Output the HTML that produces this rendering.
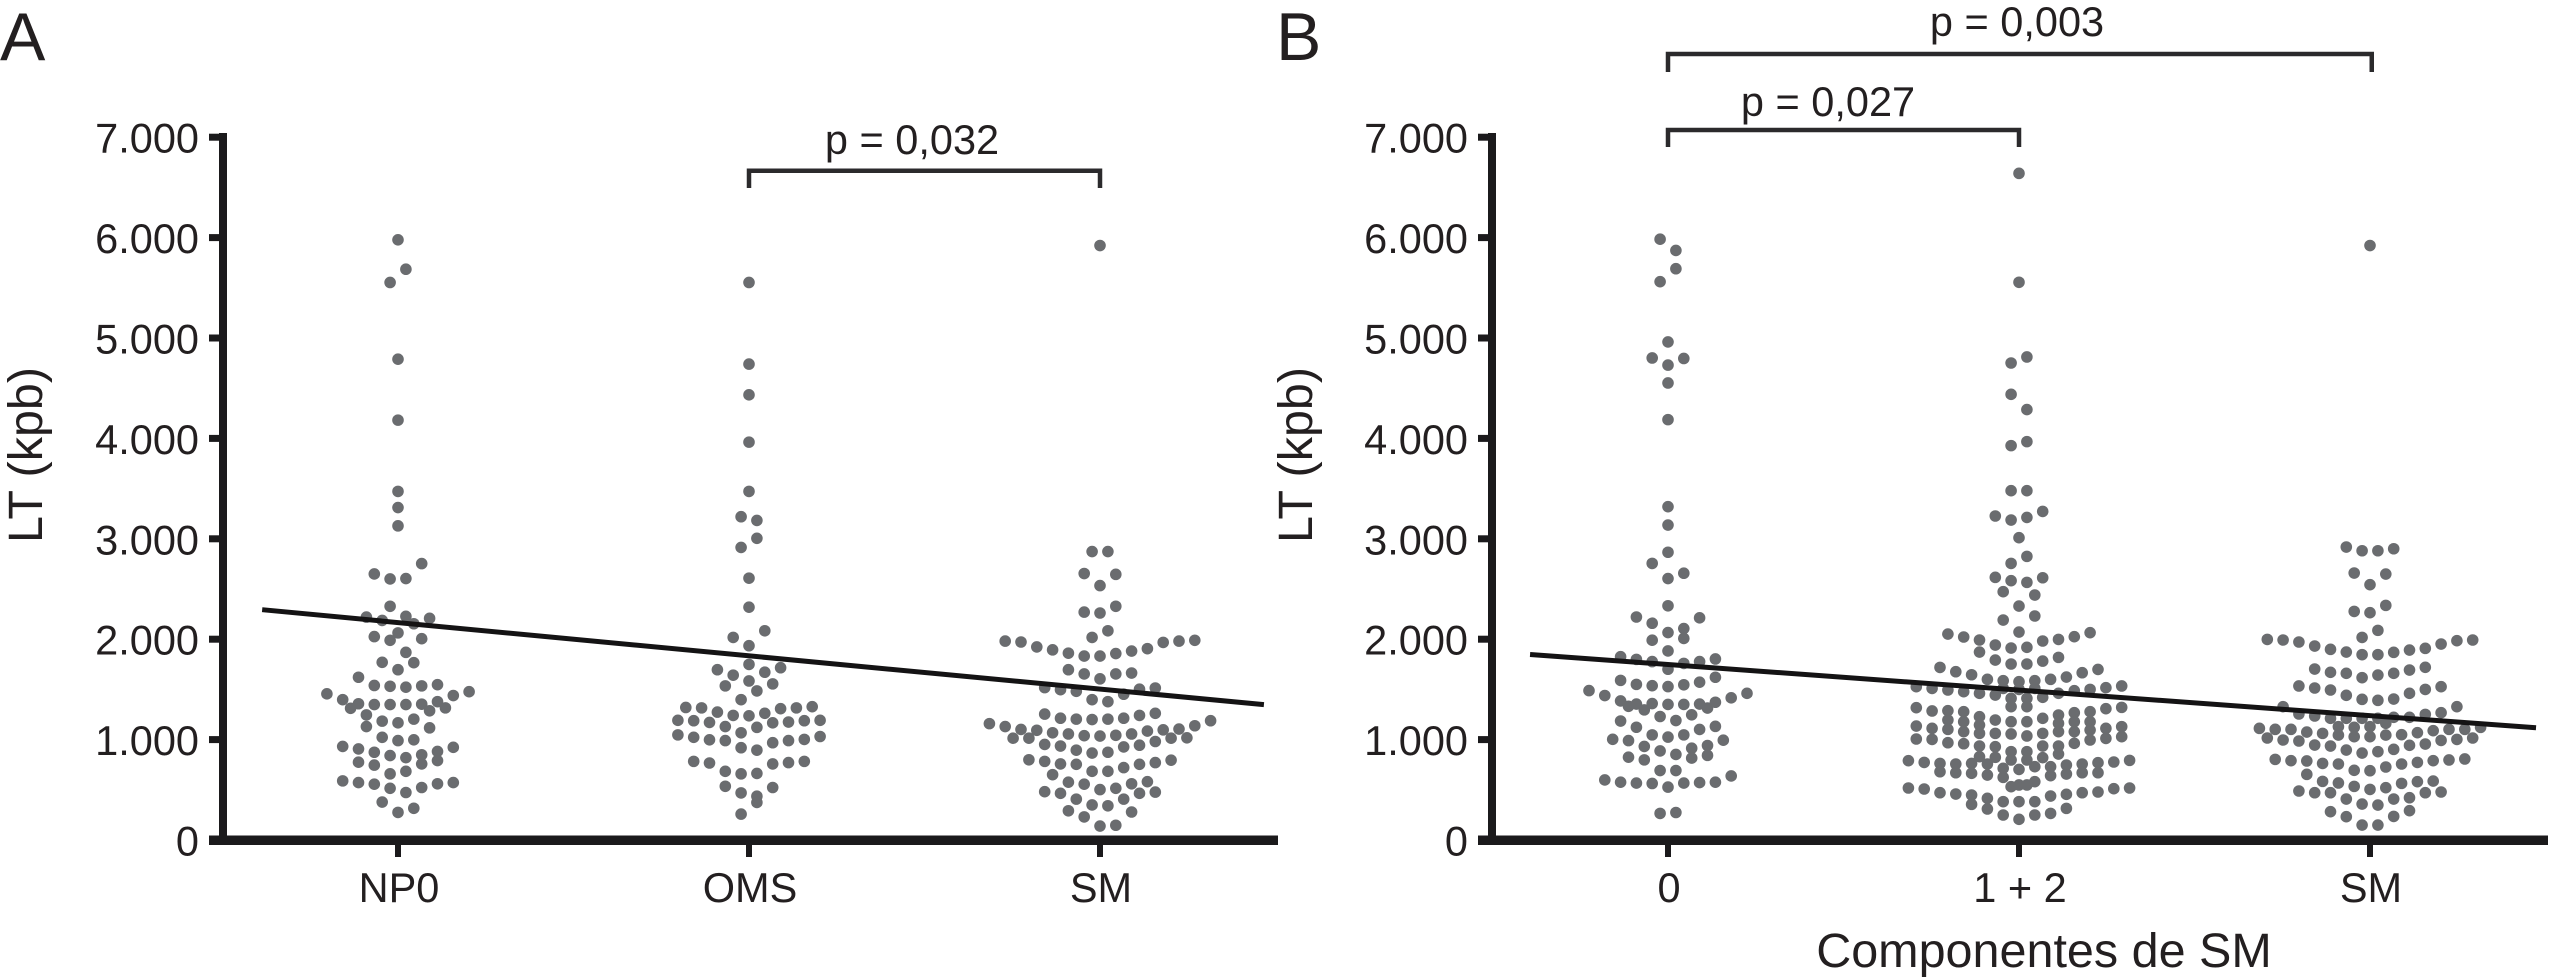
<!DOCTYPE html>
<html lang="pt">
<head>
<meta charset="utf-8">
<title>LT (kpb) beeswarm charts</title>
<style>
html,body{margin:0;padding:0;background:#fff;}
svg{display:block;}
text{font-family:"Liberation Sans",Arial,sans-serif;fill:#231f20;}
</style>
</head>
<body>
<svg id="chart" xmlns="http://www.w3.org/2000/svg" width="2549" height="978" viewBox="0 0 2549 978">
  <rect x="0" y="0" width="2549" height="978" fill="#ffffff"/>
  <text x="0" y="60" font-size="68">A</text>
  <text x="1276" y="60" font-size="68">B</text>
  <text transform="translate(42,455) rotate(-90)" text-anchor="middle" font-size="48.5">LT (kpb)</text>
  <text transform="translate(1312,455) rotate(-90)" text-anchor="middle" font-size="48.5">LT (kpb)</text>
  <text x="2044" y="967" text-anchor="middle" font-size="48.5">Componentes de SM</text>
  <text x="912" y="154" text-anchor="middle" font-size="41.5">p = 0,032</text>
  <text x="2017" y="36" text-anchor="middle" font-size="41.5">p = 0,003</text>
  <text x="1828" y="116" text-anchor="middle" font-size="41.5">p = 0,027</text>
  <g id="marks"></g>
</svg>
<script>
// Shared axis data
const yTicks = [0, 1000, 2000, 3000, 4000, 5000, 6000, 7000];
const yTickLabels = ['0', '1.000', '2.000', '3.000', '4.000', '5.000', '6.000', '7.000'];
const categoriesA = ['NP0', 'OMS', 'SM'];
const categoriesB = ['0', '1 + 2', 'SM'];

// Each point: [swarm slot, LT value]; slot is the beeswarm column index
const np0Points = [[0,5978],[.5,5685],[-.5,5553],[0,4789],[0,4182],[0,3472],[0,3311],[0,3129],[1.5,2753],[-1.5,2650],[-.5,2600],[.5,2604],[-.5,2328],[-2,2220],[-1,2187],[.5,2228],[2,2208],[1,2154],[0,2063],[-1.5,2026],[-.5,1989],[1.5,2005],[.5,1869],[-1,1770],[1,1766],[0,1696],[-2.5,1621],[-1.5,1539],[-.5,1531],[.5,1522],[1.5,1535],[2.5,1547],[-4.5,1456],[4.5,1477],[-3.5,1398],[3.5,1439],[-3,1312],[-2.5,1357],[-1.5,1349],[-.5,1349],[.5,1349],[1.5,1353],[2.5,1378],[2,1287],[3,1316],[-2,1246],[-1,1184],[0,1167],[1,1204],[-2,1130],[2,1117],[-1,1023],[0,990],[1,998],[-3.5,932],[-2.5,907],[-1.5,874],[-.5,841],[.5,820],[1.5,849],[2.5,882],[3.5,923],[-2.5,775],[-1.5,746],[1.5,758],[2.5,791],[-.5,659],[.5,684],[-3.5,589],[-2.5,572],[-1.5,556],[-.5,515],[.5,473],[1.5,523],[2.5,560],[3.5,572],[-1,378],[0,275],[1,316]];

const omsPoints = [[0,5553],[0,4740],[0,4434],[0,3963],[0,3472],[-.5,3220],[.5,3183],[.5,3005],[-.5,2914],[0,2608],[0,2319],[1,2084],[-1,2018],[0,1935],[0,1749],[-2,1696],[2,1716],[-1,1642],[1,1671],[0,1584],[-1.5,1535],[1.5,1555],[.5,1485],[-.5,1398],[-4,1320],[-3,1316],[-2,1274],[-1,1241],[0,1237],[1,1262],[2,1308],[3,1316],[4,1328],[-4.5,1192],[-3.5,1188],[-2.5,1171],[-1.5,1130],[.5,1122],[1.5,1167],[2.5,1175],[3.5,1188],[4.5,1192],[-.5,1068],[-4.5,1047],[-3.5,1023],[-2.5,998],[-1.5,990],[1.5,969],[2.5,990],[3.5,1002],[4.5,1031],[-.5,919],[.5,895],[-3.5,783],[-2.5,767],[1.5,758],[2.5,771],[3.5,783],[-1.5,684],[-.5,659],[.5,663],[-1.5,535],[1.5,523],[-.5,469],[.5,436],[.5,374],[-.5,258]];

const smPointsA = [[0,5921],[-.5,2873],[.5,2873],[-1,2654],[1,2646],[0,2534],[1,2328],[-1,2270],[0,2261],[.5,2084],[-.5,2018],[-6,1981],[-5,1972],[-4,1923],[-3,1894],[-2,1861],[-1,1832],[0,1832],[1,1857],[2,1882],[3,1906],[4,1968],[5,1981],[6,1989],[-2,1696],[-1,1654],[0,1605],[1,1654],[2,1663],[-3.5,1518],[-2.5,1497],[-1.5,1481],[1.5,1452],[2.5,1502],[3.5,1514],[-.5,1398],[.5,1378],[-3.5,1254],[-2.5,1213],[-1.5,1204],[-.5,1200],[.5,1204],[1.5,1213],[2.5,1241],[3.5,1262],[-7,1159],[-6,1130],[-5,1101],[-4,1093],[-3,1068],[-2,1056],[-1,1039],[0,1035],[1,1043],[2,1056],[3,1085],[4,1097],[5,1105],[6,1138],[7,1188],[-5.5,1014],[-4.5,1014],[4.5,1014],[5.5,1018],[-3.5,952],[-2.5,936],[-1.5,895],[-.5,866],[.5,874],[1.5,927],[2.5,944],[3.5,981],[-4.5,799],[-3.5,783],[-2.5,758],[-1.5,754],[-.5,684],[.5,684],[1.5,721],[2.5,754],[3.5,771],[4.5,795],[-3,651],[-2,576],[-1,556],[0,502],[1,515],[2,560],[3,581],[-3.5,481],[-2.5,465],[2.5,465],[3.5,477],[-1.5,407],[-.5,349],[.5,341],[1.5,407],[-2,291],[-1,230],[2,279],[0,139],[1,147]];

const zeroPoints = [[-.5,5984],[.5,5872],[.5,5690],[-.5,5561],[0,4961],[-1,4801],[1,4796],[0,4730],[0,4552],[0,4187],[0,3320],[0,3137],[0,2866],[-1,2755],[0,2604],[1,2657],[0,2333],[-2,2221],[-1,2159],[2,2213],[0,2066],[1,2106],[1,2008],[-1,1990],[0,1883],[-3,1826],[-2,1799],[-1,1777],[1,1759],[2,1777],[3,1803],[0,1701],[3,1621],[-3,1590],[-2,1550],[-1,1537],[0,1528],[1,1546],[2,1572],[-5,1488],[-4,1439],[5,1461],[4,1416],[-3,1385],[-2.5,1332],[-2,1354],[-1.5,1296],[-1,1359],[0,1350],[1,1350],[2,1354],[2.5,1314],[3,1372],[-.5,1230],[.5,1190],[1.5,1247],[-3,1185],[-2,1123],[2,1101],[3,1132],[-1,1047],[0,1025],[1,1047],[-3.5,1003],[-2.5,990],[3.5,994],[-1.5,932],[2.5,941],[-.5,887],[1.5,914],[.5,852],[-2.5,825],[-1.5,798],[1.5,816],[2.5,843],[-.5,692],[.5,692],[4,638],[-4,598],[-3,576],[-2,567],[-1,563],[0,527],[1,567],[2,572],[3,576],[-.5,265],[.5,274]];

const onePlusTwoPoints = [[0,6640],[0,5555],[.5,4811],[-.5,4751],[-.5,4439],[.5,4287],[.5,3968],[-.5,3928],[-.5,3479],[.5,3479],[-1.5,3227],[-.5,3187],[.5,3213],[1.5,3273],[0,3011],[.5,2825],[-.5,2755],[-1.5,2616],[-.5,2583],[.5,2566],[1.5,2612],[-1,2473],[1,2440],[0,2330],[-1,2191],[1,2231],[0,2071],[-4.5,2051],[-3.5,2022],[-2.5,1992],[-2.5,1872],[-1.5,1942],[-.5,1912],[.5,1919],[1.5,1982],[2.5,1998],[3.5,2025],[4.5,2065],[-1.5,1792],[-.5,1753],[.5,1753],[1.5,1782],[2.5,1819],[-5,1719],[-4,1676],[-3,1646],[-2,1600],[-1,1587],[0,1577],[1,1587],[2,1600],[3,1623],[4,1666],[5,1699],[-1,1510],[0,1500],[1,1510],[-6.5,1527],[-5.5,1510],[-4.5,1494],[-3.5,1477],[-2.5,1461],[-1.5,1444],[-.5,1411],[-.5,1328],[-6.5,1318],[-5.5,1285],[-4.5,1288],[-4.5,1195],[-4.5,1102],[-3.5,1278],[-3.5,1178],[-3.5,1079],[-2.5,1228],[-2.5,1145],[-2.5,1062],[-1.5,1195],[-1.5,1062],[-.5,1178],[-.5,1056],[-6.5,1135],[-6.5,1006],[-5.5,1112],[-5.5,1002],[-4.5,969],[-3.5,959],[-2.5,936],[-2.5,830],[-1.5,929],[-1.5,823],[-.5,880],[-.5,797],[-7,790],[-6,773],[-5,763],[-5,680],[-4,757],[-4,670],[-3,763],[-3,664],[-2,757],[-2,647],[-1,714],[-1,624],[0,703],[-.5,531],[0,548],[-7,518],[-6,508],[-5,471],[-4,458],[-3,448],[-3,355],[-2,415],[-2,309],[-1,382],[-1,249],[0,382],[0,206],[6.5,1534],[5.5,1517],[4.5,1500],[3.5,1487],[2.5,1461],[1.5,1421],[.5,1411],[.5,1328],[6.5,1321],[5.5,1308],[4.5,1278],[4.5,1178],[4.5,1095],[4.5,996],[3.5,1268],[3.5,1178],[3.5,1079],[2.5,1245],[2.5,1162],[2.5,1079],[1.5,1212],[1.5,1062],[.5,1178],[.5,1036],[6.5,1129],[6.5,1029],[5.5,1112],[5.5,1012],[3.5,963],[2.5,936],[2.5,856],[1.5,936],[1.5,820],[.5,880],[.5,797],[7,793],[6,777],[5,770],[5,670],[4,757],[4,670],[3,747],[3,657],[2,730],[2,641],[1,730],[7,518],[6,511],[5,478],[4,471],[3,455],[2,438],[1,581],[.5,548],[1,382],[1,249],[2,265],[3,315]];

const smPointsB = [[0,5921],[-1.5,2918],[-.5,2881],[.5,2881],[1.5,2901],[-1,2659],[1,2649],[0,2543],[-1,2277],[0,2264],[1,2337],[.5,2088],[-.5,2018],[-6.5,1998],[-5.5,1992],[-4.5,1972],[-3.5,1932],[-2.5,1899],[-1.5,1872],[-.5,1846],[.5,1846],[1.5,1869],[2.5,1892],[3.5,1909],[4.5,1952],[5.5,1985],[6.5,1992],[-3.5,1703],[-2.5,1670],[-1.5,1660],[-.5,1617],[.5,1643],[1.5,1660],[2.5,1693],[3.5,1720],[-4.5,1534],[-3.5,1514],[-2.5,1494],[-1.5,1441],[-.5,1401],[.5,1391],[1.5,1404],[2.5,1461],[3.5,1500],[4.5,1527],[5.5,1328],[4.5,1268],[3.5,1251],[2.5,1222],[1.5,1222],[-5.5,1328],[-4.5,1255],[-3.5,1235],[-2.5,1212],[-1.5,1212],[-.5,1212],[.5,1212],[-2,1129],[-1,1122],[0,1129],[1,1162],[-7,1112],[-6,1102],[-5,1102],[-4,1075],[-3,1062],[-2,1045],[-1,1029],[0,1029],[1,1045],[2,1049],[3,1069],[4,1089],[5,1102],[6,1102],[7,1122],[-6.5,1016],[-5.5,996],[-4.5,986],[-3.5,946],[-2.5,936],[-1.5,896],[-.5,866],[.5,880],[1.5,903],[2.5,943],[3.5,956],[4.5,992],[5.5,1002],[6.5,1016],[-6,803],[-5,790],[-4,787],[-3,763],[-2,757],[-1,694],[0,690],[1,727],[2,757],[3,773],[4,790],[5,797],[6,807],[-4,654],[-3,584],[-2,568],[-1,534],[0,504],[1,521],[2,564],[3,581],[4,587],[-4.5,488],[-3.5,471],[-2.5,471],[-1.5,408],[-.5,358],[.5,348],[1.5,408],[2.5,421],[3.5,471],[4.5,478],[-2.5,282],[-1.5,232],[1.5,235],[2.5,292],[-.5,149],[.5,149]];

// Regression lines: category-axis position and LT value at each end
const trendPositionsA = [-0.387, 2.467];
const trendValuesA = [2294, 1348];
const trendPositionsB = [-0.393, 2.473];
const trendValuesB = [1848, 1118];

const SVG_NS = 'http://www.w3.org/2000/svg';
const marks = document.getElementById('marks');
const INK = '#1b1a1c';
const DOT = '#6a6c6f';

function yScale(v) { return 840 - v * 0.1004; }
function xScale(panel, pos) { return panel.x0 + pos * 351; }
function slotOffset(slot) { return slot * 15.8; }

function shape(tag, attrs) {
  const el = document.createElementNS(SVG_NS, tag);
  Object.keys(attrs).forEach(function (k) { el.setAttribute(k, attrs[k]); });
  marks.appendChild(el);
  return el;
}

function drawAxes(panel, categories) {
  const yAxis = shape('rect', { x: panel.axisX - 4, y: 133, width: 8, height: 707, fill: INK });
  
  
  const xAxis = shape('rect', { x: panel.axisX - 14, y: 835.5, width: panel.axisEnd - panel.axisX + 14, height: 9.5, fill: INK });
  
  
  yTicks.forEach(function (v, i) {
    if (v > 0) {
      const tick = shape('rect', { x: panel.axisX - 14, y: yScale(v) - 3.5, width: 12, height: 7, fill: INK });
      
      
    }
    const label = shape('text', { x: panel.axisX - 24, y: yScale(v) + 15.5, 'text-anchor': 'end', 'font-size': 41.5 });
    label.textContent = yTickLabels[i];
    
    
  });
  categories.forEach(function (c, i) {
    const tick = shape('rect', { x: xScale(panel, i) - 3, y: 845, width: 6, height: 12, fill: INK });
    
    
    const label = shape('text', { x: xScale(panel, i) + 1, y: 902, 'text-anchor': 'middle', 'font-size': 41.5 });
    label.textContent = c;
    
    
  });
}

function drawSwarm(panel, index, points, name) {
  points.forEach(function (p) {
    const dot = shape('circle', { cx: xScale(panel, index) + slotOffset(p[0]), cy: yScale(p[1]), r: 5.8, fill: DOT });
    
    
  });
}

function drawTrend(panel, positions, values, name) {
  const line = shape('line', {
    x1: xScale(panel, positions[0]), y1: yScale(values[0]),
    x2: xScale(panel, positions[1]), y2: yScale(values[1]),
    stroke: '#141314', 'stroke-width': 5
  });
  
  
}

function drawBracket(panel, from, to, topValue, legValue, name) {
  const x1 = xScale(panel, from), x2 = xScale(panel, to);
  const y1 = yScale(topValue), y2 = yScale(legValue);
  const path = shape('polyline', {
    points: x1 + ',' + y2 + ' ' + x1 + ',' + y1 + ' ' + x2 + ',' + y1 + ' ' + x2 + ',' + y2,
    fill: 'none', stroke: '#2b2a2c', 'stroke-width': 4.5
  });
  
  
}

const panelA = { id: 'panel-a', x0: 398, axisX: 223, axisEnd: 1278 };
const panelB = { id: 'panel-b', x0: 1668, axisX: 1492, axisEnd: 2548 };

drawAxes(panelA, categoriesA);
drawAxes(panelB, categoriesB);

drawSwarm(panelA, 0, np0Points, 'np0-point');
drawSwarm(panelA, 1, omsPoints, 'oms-point');
drawSwarm(panelA, 2, smPointsA, 'sm-point-a');
drawSwarm(panelB, 0, zeroPoints, 'zero-components-point');
drawSwarm(panelB, 1, onePlusTwoPoints, 'one-plus-two-components-point');
drawSwarm(panelB, 2, smPointsB, 'sm-point-b');

drawTrend(panelA, trendPositionsA, trendValuesA, 'trend-line-a');
drawTrend(panelB, trendPositionsB, trendValuesB, 'trend-line-b');

drawBracket(panelA, 1, 2, 6666, 6494, 'bracket-oms-sm');
drawBracket(panelB, 0, 2.005, 7829, 7649, 'bracket-0-sm');
drawBracket(panelB, 0, 1, 7072, 6902, 'bracket-0-12');
</script>
</body>
</html>
